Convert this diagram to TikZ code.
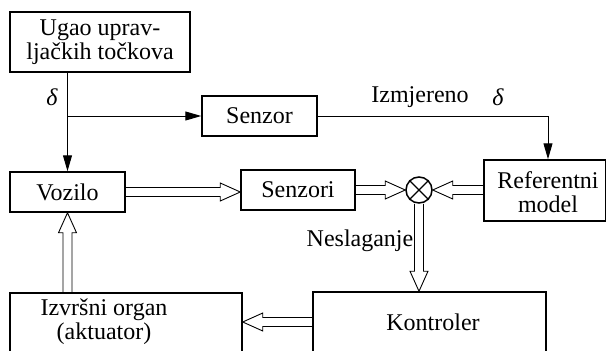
\documentclass[tikz,border=0pt]{standalone}
\usepackage{fontspec}
\setmainfont{Liberation Serif}
\usetikzlibrary{arrows.meta,calc}
\begin{document}
\begin{tikzpicture}[x=1pt,y=-1pt,
  txt/.style={font=\fontsize{24}{24}\selectfont},
  box/.style={draw, line width=1.5pt, inner sep=0pt, align=center, txt},
  sig/.style={line width=1pt, -{Triangle[length=16pt,width=9pt]}},
  % hollow block arrow: two parallel lines ending in an open triangular head
  dbl/.style={line width=0.9pt, line join=miter, to path={
    let \p1=(\tikztostart), \p2=(\tikztotarget), \p3=($(\p2)!20pt!(\p1)$) in
    ($(\p1)!4.5pt!90:(\p2)$) -- ($(\p3)!4.5pt!90:(\p2)$) -- ($(\p3)!9pt!90:(\p2)$)
    -- (\p2) -- ($(\p3)!9pt!-90:(\p2)$) -- ($(\p3)!4.5pt!-90:(\p2)$)
    -- ($(\p1)!4.5pt!-90:(\p2)$)}}]
  \clip (0,0) rectangle (606,351);
  \fill[white] (0,0) rectangle (606,351);

  % blocks
  \node[box, minimum width=180pt, minimum height=60pt] (ugao) at (100,42)
    {Ugao uprav-\\ljačkih točkova};
  \node[box, minimum width=115pt, minimum height=40pt] (senzor) at (259.5,116) {Senzor};
  \node[box, minimum width=115pt, minimum height=40pt] (vozilo) at (67.5,192) {Vozilo};
  \node[box, minimum width=114pt, minimum height=40pt] (senzori) at (298,190) {Senzori};
  \node[box, minimum width=122pt, minimum height=61pt] (ref) at (545,190.5) {};
  \node[txt, align=center] (reftxt) at (548,192) {Referentni\\model};
  \node[box, minimum width=233pt, minimum height=60pt] (kontr) at (429.5,322) {};
  \node[txt] (kontrtxt) at (433,322) {Kontroler};
  \node[box, minimum width=232pt, minimum height=60pt] (izv) at (126,323) {};
  \node[txt, align=center] (izvtxt) at (104,322) {Izvršni organ\\(aktuator)};
  \node[draw, circle, line width=1.5pt, minimum size=26pt, inner sep=0pt] (sum) at (419,190) {};
  \draw[line width=1.3pt] (sum.north west) -- (sum.south east)
                          (sum.north east) -- (sum.south west);

  % steering angle signal
  \coordinate (br) at (vozilo.north |- senzor.west);
  \draw[sig] (ugao.south -| vozilo.north) -- (vozilo.north);
  \draw[sig] (br) -- (senzor.west);
  \draw[sig] (senzor.east) -| ([xshift=3pt]ref.north);

  % main signal flow
  \draw[dbl] (vozilo.east) to (vozilo.east -| senzori.west);
  \draw[dbl] (senzori.east) to (sum.west);
  \draw[dbl] (ref.west |- sum.east) to (sum.east);
  \draw[dbl] (sum.south) to (sum.south |- kontr.north);
  \draw[dbl] (kontr.west) to (kontr.west -| izv.east);
  \draw[dbl] (izv.north -| vozilo.south) to (vozilo.south);

  % labels
  \node[txt] (d1) at (52,97) {\itshape δ};
  \node[txt] (izm) at (420,97) {Izmjereno};
  \node[txt] (d2) at (498,97) {\itshape δ};
  \node[txt] (nes) at (360,241) {Neslaganje};
\end{tikzpicture}
\end{document}
